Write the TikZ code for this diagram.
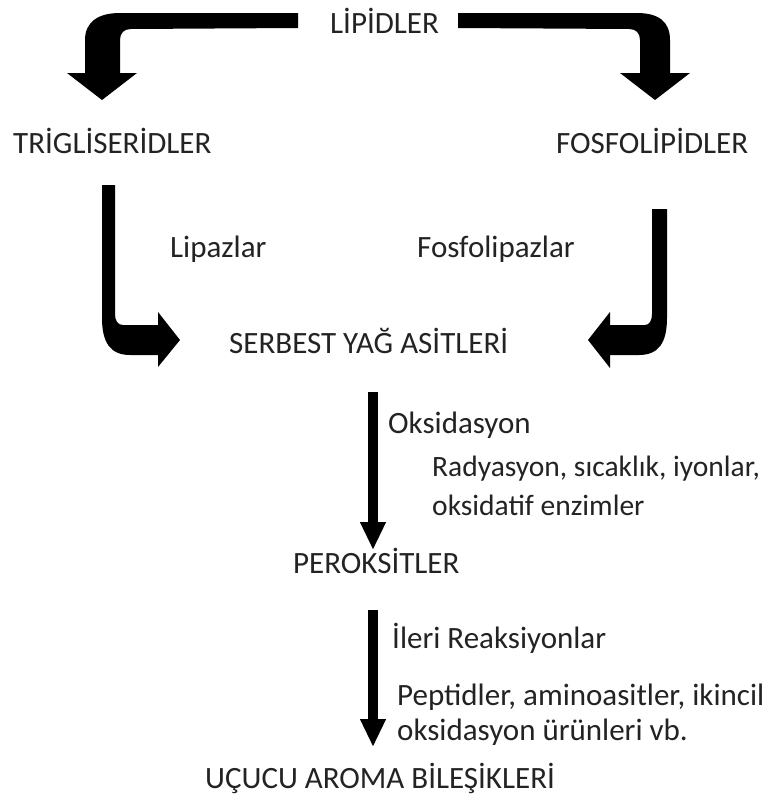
\documentclass[tikz,border=0pt]{standalone}
\usepackage{fontspec}
\setmainfont{Carlito}
\usetikzlibrary{arrows.meta}
\definecolor{txt}{RGB}{35,35,35}
\begin{document}
\begin{tikzpicture}[x=1pt,y=-1pt,
  lbl/.style={anchor=base west, inner sep=0pt, text=txt, font=\fontsize{31}{37}\selectfont},
  darrow/.style={draw=black, line width=10pt, -{Triangle[width=24pt,length=28pt]}},
  blockarrow/.style={fill=black, draw=none}]
\useasboundingbox[fill=white] (0,0) rectangle (771,798);

% text nodes
\node[lbl] (lip)   at (330,33)  {LİPİDLER};
\node[lbl] (tri)   at (13,153)  {TRİGLİSERİDLER};
\node[lbl] (fos)   at (556,153) {FOSFOLİPİDLER};
\node[lbl] (lipaz) at (170,257) {Lipazlar};
\node[lbl] (fosaz) at (417,257) {Fosfolipazlar};
\node[lbl] (serb)  at (229,353) {SERBEST YAĞ ASİTLERİ};
\node[lbl] (oks)   at (388,433) {Oksidasyon};
\node[lbl, font=\fontsize{29.5}{36}\selectfont] (rad1) at (432,476) {Radyasyon, sıcaklık, iyonlar,};
\node[lbl, font=\fontsize{29.5}{36}\selectfont] (rad2) at (432,515) {oksidatif enzimler};
\node[lbl] (perok) at (293,573) {PEROKSİTLER};
\node[lbl] (ileri) at (392,648) {İleri Reaksiyonlar};
\node[lbl] (pep1)  at (397,705) {Peptidler, aminoasitler, ikincil};
\node[lbl] (pep2)  at (397,740) {oksidasyon ürünleri vb.};
\node[lbl] (ucucu) at (205,788) {UÇUCU AROMA BİLEŞİKLERİ};

% bent block arrows
\fill[blockarrow] (298,13) -- (120,13) .. controls (98,13) and (85,22) .. (85,40)
  -- (85,73) -- (67,73) -- (102,100) -- (137,73) -- (120,73) -- (120,40)
  .. controls (120,33) and (124,29) .. (131,29) -- (298,28) -- cycle;
\fill[blockarrow] (458,13) -- (637,13) .. controls (659,13) and (670,22) .. (670,40)
  -- (670,73) -- (690,73) -- (655,100) -- (620,73) -- (640,73) -- (640,40)
  .. controls (640,33) and (636,29) .. (629,29) -- (458,28) -- cycle;
\fill[blockarrow] (102,185) -- (102,318) .. controls (102,342) and (110,355) .. (130,355)
  -- (158,355) -- (158,367) -- (180,340) -- (158,312) -- (158,325) -- (123,325)
  .. controls (118,325) and (115,321) .. (115,314) -- (115,185) -- cycle;
\fill[blockarrow] (667,209) -- (667,318) .. controls (667,342) and (659,355) .. (639,355)
  -- (610,355) -- (610,368) -- (588,340) -- (610,312) -- (610,325) -- (645,325)
  .. controls (649,325) and (652,321) .. (652,314) -- (652,209) -- cycle;

% vertical arrows
\coordinate (ax) at (373,0);
\draw[darrow, shorten <=39pt, shorten >=23pt] (serb.base -| ax) -- (perok.base -| ax);
\draw[darrow, shorten <=37pt, shorten >=41pt] (perok.base -| ax) -- (ucucu.base -| ax);
\end{tikzpicture}
\end{document}
